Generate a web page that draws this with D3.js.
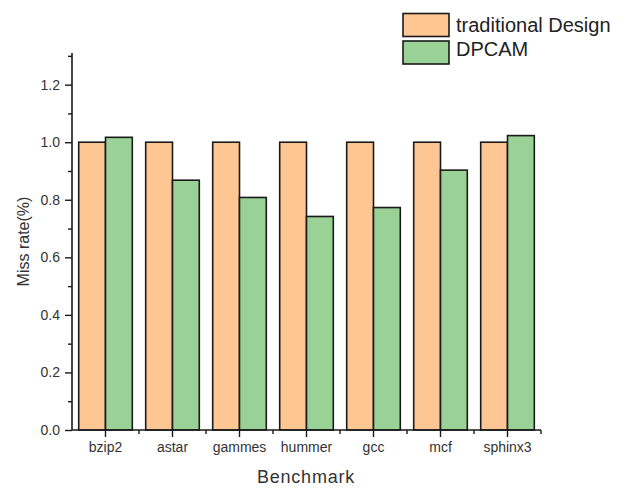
<!DOCTYPE html>
<html><head><meta charset="utf-8">
<script src="https://cdn.jsdelivr.net/npm/d3@7/dist/d3.min.js"></script>
<style>body{margin:0;background:#fff}text{font-family:Arial,"Liberation Sans",sans-serif}</style>
</head><body><svg id="c" width="621" height="489"></svg>
<script>
const categories = ["bzip2","astar","gammes","hummer","gcc","mcf","sphinx3"];
const seriesNames = ["traditional Design","DPCAM"];
const traditional = [1.0,1.0,1.0,1.0,1.0,1.0,1.0];
const dpcam = [1.017,0.868,0.808,0.742,0.773,0.903,1.023];
const yTicks = [0.0,0.2,0.4,0.6,0.8,1.0,1.2];
const colors = ["#FEC692","#99D196"];

const svg = d3.select("#c");
const L=72, R=541, T=53, B=430;
const y = d3.scaleLinear().domain([0,1.31]).range([B,T]);
const data = [traditional,dpcam];

const xc = d3.scaleBand().domain(categories).range([L,R]);
const xs = d3.scaleBand().domain(seriesNames).range([0,xc.bandwidth()*0.8]);
// bars
seriesNames.forEach((s,si)=>{
  svg.append("g").selectAll("rect").data(categories).join("rect")
    .attr("x",(d)=>xc(d)+xc.bandwidth()*0.1 + xs(s))
    .attr("y",(d,i)=>y(data[si][i]))
    .attr("width",xs.bandwidth())
    .attr("height",(d,i)=>B-y(data[si][i]))
    .attr("fill",colors[si]).attr("stroke","#1a1a1a").attr("stroke-width",1.6);
});

// y axis
const ya = d3.axisLeft(y).tickValues(yTicks).tickFormat(d3.format(".1f")).tickSize(7).tickPadding(5);
const gy = svg.append("g").attr("transform",`translate(${L},0)`).call(ya);
gy.select(".domain").attr("stroke","#1a1a1a").attr("stroke-width",1.6).attr("d",`M0,${T}V${B}`);
gy.selectAll(".tick line").attr("stroke","#1a1a1a").attr("stroke-width",1.4);
gy.selectAll(".tick text").attr("font-size",14).attr("fill","#333");
const ym = d3.axisLeft(y).tickValues(yTicks.map(v=>v+0.1)).tickFormat("").tickSize(4);
const gym = svg.append("g").attr("transform",`translate(${L},0)`).call(ym);
gym.select(".domain").remove();
gym.selectAll(".tick line").attr("stroke","#1a1a1a").attr("stroke-width",1.4);

// x axis
const xa = d3.axisBottom(xc).tickSize(7).tickPadding(5);
const gx = svg.append("g").attr("transform",`translate(0,${B})`).call(xa);
gx.select(".domain").attr("stroke","#1a1a1a").attr("stroke-width",1.6).attr("d",`M${L},0H${R}`);
gx.selectAll(".tick line").attr("stroke","#1a1a1a").attr("stroke-width",1.4);
gx.selectAll(".tick text").attr("font-size",14).attr("fill","#333");
// minor x ticks at boundaries
const bounds = categories.slice(1).map(c=>xc(c)).concat([R]);
svg.append("g").selectAll("line").data(bounds).join("line")
  .attr("x1",d=>d).attr("x2",d=>d).attr("y1",B).attr("y2",B+4)
  .attr("stroke","#1a1a1a").attr("stroke-width",1.4);

// axis titles
svg.append("text").attr("x",306).attr("y",483).attr("text-anchor","middle")
  .attr("font-size",18).attr("letter-spacing",0.8).attr("fill","#333").text("Benchmark");
svg.append("text").attr("transform",`translate(29,${(T+B)/2}) rotate(-90)`).attr("text-anchor","middle")
  .attr("font-size",16).attr("fill","#333").text("Miss rate(%)");

// legend
const lg = svg.append("g");
seriesNames.forEach((s,i)=>{
  lg.append("rect").attr("x",403).attr("y",13.5+i*27.5).attr("width",46).attr("height",23)
    .attr("fill",colors[i]).attr("stroke","#1a1a1a").attr("stroke-width",1.6);
  lg.append("text").attr("x",456).attr("y",32+i*24).attr("font-size",20).attr("fill","#222").text(s);
});
</script></body></html>
